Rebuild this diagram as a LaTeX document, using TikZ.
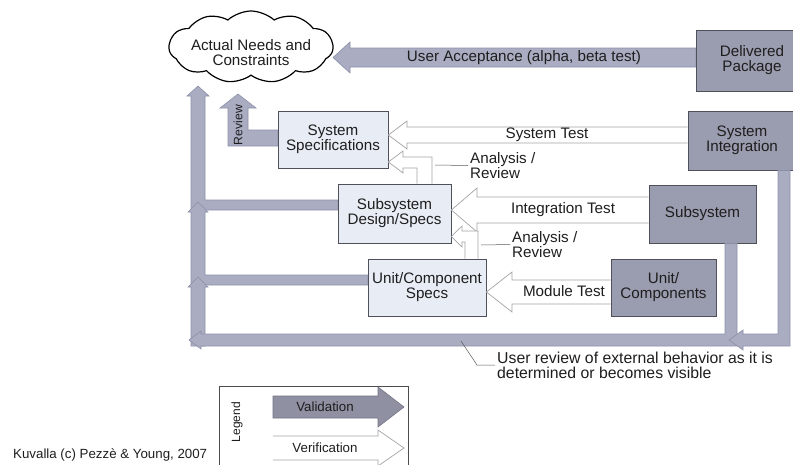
\documentclass[tikz,border=0pt]{standalone}
\usepackage{fontspec}
\setmainfont{Liberation Sans}
\usetikzlibrary{shapes.symbols}

\definecolor{specfill}{HTML}{E8ECF5}
\definecolor{buildfill}{HTML}{9A9CAF}
\definecolor{valfill}{HTML}{AAADC2}
\definecolor{valedge}{HTML}{8C90A8}
\definecolor{verline}{HTML}{A4A4A8}
\definecolor{boxedge}{HTML}{50505A}
\definecolor{legval}{HTML}{8F91A3}
\definecolor{ink}{HTML}{1E1E1E}

\begin{document}
\begin{tikzpicture}[x=1pt,y=-1pt,
  lbl/.style={font=\fontsize{15.2}{15}\selectfont, align=center, text=ink},
  small/.style={font=\fontsize{13.3}{15}\selectfont, text=ink},
  spec/.style={draw=boxedge, fill=specfill, line width=0.8pt, lbl, inner sep=0},
  build/.style={draw=boxedge, fill=buildfill, line width=0.8pt, lbl, inner sep=0},
  valarrow/.style={fill=valfill, draw=valedge, line width=0.6pt},
  verarrow/.style={fill=white, draw=verline, line width=0.7pt},
  leader/.style={draw=black!65, line width=0.5pt},
]
\useasboundingbox (0,0) rectangle (793,464);
\clip (0,0) rectangle (793,464);

% --- needs cloud ---
\node[cloud, cloud ignores aspect, cloud puffs=11, cloud puff arc=85,
      draw=black, line width=1.2pt, fill=white, inner sep=0,
      minimum width=164, minimum height=72] (needs) at (251,47) {};
\node[lbl] (needstext) at (251,52.5) {Actual Needs and\\Constraints};

% --- built artefacts (right column) ---
\node[build, minimum width=112, minimum height=61] (deliv) at (752,60.5) {Delivered\\Package};
\node[build, minimum width=108, minimum height=59] (sysint) at (742,140.5) {System\\Integration};
\node[build, minimum width=107, minimum height=58] (subsys) at (702.5,214) {Subsystem};
\node[build, minimum width=105, minimum height=57] (unitc) at (663.5,287.5) {Unit/\\Components};

% --- specifications (left column) ---
\node[spec, minimum width=110, minimum height=57] (sysspec) at (333,139.5) {System\\Specifications};
\node[spec, minimum width=113, minimum height=59] (subdes) at (394.5,213.5) {Subsystem\\Design/Specs};
\node[spec, minimum width=118, minimum height=57] (unitspec) at (427,287.5) {Unit/Component\\Specs};

% --- validation arrows ---
\draw[valarrow] (deliv.west |- 0,48) -- (350,48) -- (350,42) -- (333,57.5) -- (350,73) -- (350,67) -- (deliv.west |- 0,67) -- cycle;
\node[lbl] (uatext) at (524,57.5) {User Acceptance (alpha, beta test)};

\draw[valarrow] (sysspec.west |- 0,130) -- (248,130) -- (248,108) -- (256,108) -- (238,94) -- (220,108) -- (228,108) -- (228,146) -- (sysspec.west |- 0,146) -- cycle;
\node[rotate=90, font=\fontsize{12.2}{12}\selectfont, text=ink] (revtext) at (238,125) {Review};

\draw[valarrow] (subdes.west |- 0,200) -- (205,200) -- (205,96) -- (209,96) -- (198,86) -- (187,96) -- (191,96) -- (191,210) -- (subdes.west |- 0,210) -- cycle;
\draw[valarrow] (unitspec.west |- 0,275) -- (205,275) -- (205,212) -- (208,212) -- (198,202) -- (188,212) -- (191,212) -- (191,285) -- (unitspec.west |- 0,285) -- cycle;
\draw[valarrow] (191,346) -- (191,287) -- (188,287) -- (198,277) -- (208,287) -- (205,287) -- (205,346) -- cycle;

\draw[valarrow] (subsys.south -| 725,0) -- (725,334) -- (201,334) -- (201,331) -- (189,340) -- (201,349) -- (201,346) -- (737,346) -- (subsys.south -| 737,0) -- cycle;
\draw[valarrow] (sysint.south -| 778,0) -- (778,334) -- (743,334) -- (743,330) -- (729,340) -- (743,350) -- (743,346) -- (790,346) -- (sysint.south -| 790,0) -- cycle;

% --- verification arrows ---
\draw[verarrow] (sysint.west |- 0,127) -- (407,127) -- (407,121) -- (sysspec.east |- 0,135) -- (407,149) -- (407,143) -- (sysint.west |- 0,143);
\node[lbl] (sttext) at (547,135) {System Test};

\draw[verarrow] (subsys.west |- 0,197) -- (477,197) -- (477,188) -- (subdes.east |- 0,210) -- (477,232) -- (477,223) -- (subsys.west |- 0,223);
\node[lbl] (ittext) at (563,210) {Integration Test};

\draw[verarrow] (unitc.west |- 0,280) -- (512,280) -- (512,272) -- (unitspec.east |- 0,292) -- (512,312) -- (512,304) -- (unitc.west |- 0,304);
\node[lbl] (mttext) at (564,291) {Module Test};

\draw[verarrow] (subdes.north -| 432,0) -- (432,157) -- (403,157) -- (403,151) -- (sysspec.east |- 0,162) -- (403,173) -- (403,168) -- (417,168) -- (subdes.north -| 417,0);
\node[lbl, align=left, anchor=west, inner sep=2] (anA) at (468,165.5) {Analysis /\\Review};
\draw[leader] (435,165) -- (anA.west);

\draw[verarrow] (unitspec.north -| 478,0) -- (478,231) -- (462,231) -- (462,226) -- (subdes.east |- 0,236.5) -- (462,247) -- (462,242) -- (465,242) -- (unitspec.north -| 465,0);
\node[lbl, align=left, anchor=west, inner sep=2] (anB) at (510,244.5) {Analysis /\\Review};
\draw[leader] (481,245) -- (anB.west);

% --- user review note ---
\node[font=\fontsize{15.8}{15}\selectfont, text=ink, align=left, anchor=west, inner sep=2] (urtext) at (495,365) {User review of external behavior as it is\\determined or becomes visible};
\draw[leader] (461,341) -- (477,365) -- (urtext.west);

% --- legend ---
\node[draw=black!70, line width=0.8pt, anchor=north west, minimum width=189, minimum height=94, inner sep=0] (legend) at (219,386) {};
\node[rotate=90, font=\fontsize{12}{12}\selectfont, text=ink] (legtext) at (237,422) {Legend};
\draw[fill=legval, draw=legval!80!black, line width=0.6pt] (273,396) -- (378,396) -- (378,387) -- (404,407) -- (378,427) -- (378,418) -- (273,418) -- cycle;
\node[small] (valtext) at (325,407) {Validation};
\draw[verarrow] (273,436) -- (378,436) -- (378,430) -- (404,448) -- (378,466) -- (378,460) -- (273,460);
\node[small] (vertext) at (325,448) {Verification};

\node[small, anchor=west, inner sep=0] (credit) at (13,455) {Kuvalla (c) Pezzè \& Young, 2007};
\end{tikzpicture}
\end{document}
